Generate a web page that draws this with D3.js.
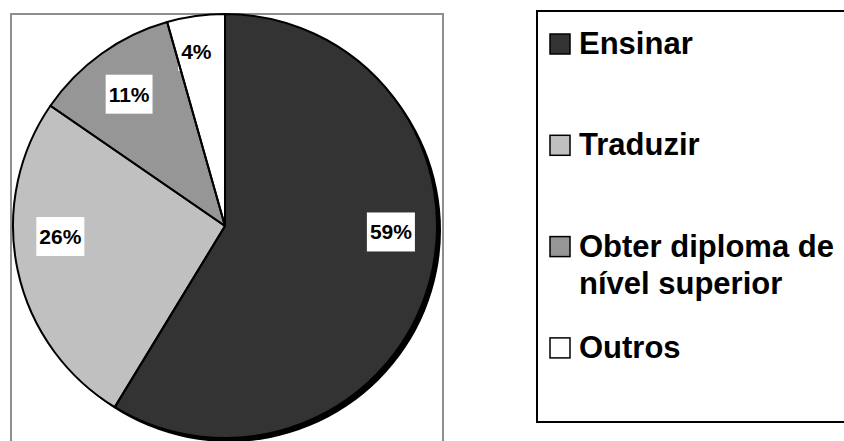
<!DOCTYPE html>
<html>
<head>
<meta charset="utf-8">
<script src="https://cdn.jsdelivr.net/npm/d3@7"></script>
<style>
  body { margin: 0; background: #fff; }
  text { font-family: "Liberation Sans", Arial, sans-serif; font-weight: bold; }
</style>
</head>
<body>
<div id="viz"></div>
<script>
// motivos - valores (%)
const categories = ['Ensinar', 'Traduzir', 'Obter diploma de nível superior', 'Outros'];
const values = [58.7, 25.9, 11.0, 4.4];
const legendLines = [['Ensinar'], ['Traduzir'], ['Obter diploma de', 'nível superior'], ['Outros']];
const colors = ['#333333', '#c0c0c0', '#969696', '#ffffff'];

const W = 844, H = 441;
const cx = 225, cy = 226, R = 212;

let svg = d3.select('#viz')
  .append('svg')
  .attr('width', W)
  .attr('height', H);

// plot area border
svg.append('rect')
  .attr('x', 11).attr('y', 14)
  .attr('width', 432).attr('height', 440)
  .attr('fill', 'none')
  .attr('stroke', '#8e8e8e')
  .attr('stroke-width', 2);

let pie = d3.pie().sort(null).value(d => d);
let arcs = pie(values);
let arc = d3.arc().innerRadius(0).outerRadius(R);

let g = svg.append('g').attr('transform', 'translate(' + cx + ',' + cy + ')');

// shadow
g.append('circle')
  .attr('cx', 4).attr('cy', 4)
  .attr('r', R)
  .attr('fill', '#000');

g.selectAll('.slice')
  .data(arcs)
  .enter().append('path')
  .attr('class', 'slice')
  .attr('d', arc)
  .attr('fill', (d, i) => colors[i]);

// label placement (excel "best fit" style): radius and angle nudge per slice
const labelR = [166, 165, 163, 177];
const labelNudge = [-13.6, 8.4, -0.4, -1.4];
const fmt = d => Math.round(d) + '%';

arcs.forEach(function(d, i) {
  let a = (d.startAngle + d.endAngle) / 2 + labelNudge[i] * Math.PI / 180;
  let x = Math.sin(a) * labelR[i];
  let y = -Math.cos(a) * labelR[i];
  let box = g.append('rect').attr('fill', '#fff');
  let t = g.append('text')
    .attr('x', x).attr('y', y + 7.5)
    .attr('text-anchor', 'middle')
    .attr('font-size', 21)
    .attr('fill', '#000')
    .text(fmt(values[i]));
  let w = t.node().getComputedTextLength() + 6;
  box.attr('x', x - w / 2).attr('y', y - 19.5)
    .attr('width', w).attr('height', 39);
});

// outlines on top so the label boxes don't hide them
g.selectAll('.edge')
  .data(arcs)
  .enter().append('path')
  .attr('class', 'edge')
  .attr('d', arc)
  .attr('fill', 'none')
  .attr('stroke', '#000')
  .attr('stroke-width', 2)
  .attr('stroke-linejoin', 'round');

// legend
svg.append('rect')
  .attr('x', 537).attr('y', 11)
  .attr('width', 320).attr('height', 411)
  .attr('fill', 'none')
  .attr('stroke', '#000')
  .attr('stroke-width', 2);

let lg = svg.selectAll('.leg')
  .data(categories)
  .enter().append('g')
  .attr('class', 'leg')
  .attr('transform', (d, i) => 'translate(0,' + (54 + i * 101.3) + ')');

lg.append('rect')
  .attr('x', 550).attr('y', -20)
  .attr('width', 20).attr('height', 20)
  .attr('fill', (d, i) => colors[i])
  .attr('stroke', '#000')
  .attr('stroke-width', 1.5);

lg.each(function(d, i) {
  let t = d3.select(this).append('text')
    .attr('x', 579).attr('y', 0)
    .attr('font-size', 31)
    .attr('fill', '#000');
  legendLines[i].forEach(function(line, k) {
    t.append('tspan').attr('x', 579).attr('dy', k === 0 ? 0 : 37).text(line);
  });
});
</script>
</body>
</html>
